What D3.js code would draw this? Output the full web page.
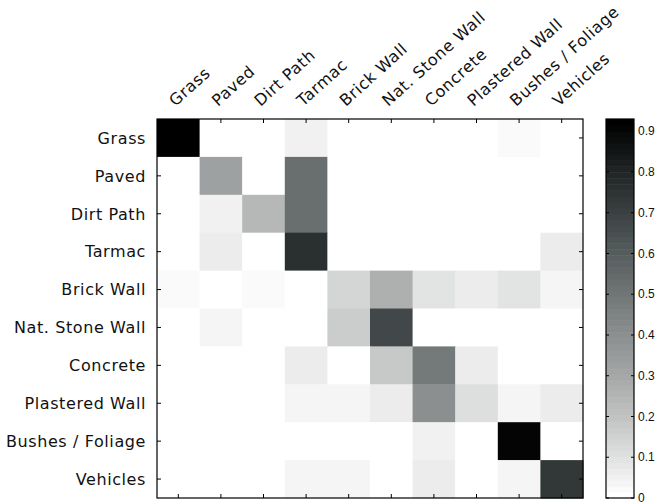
<!DOCTYPE html>
<html>
<head>
<meta charset="utf-8">
<script src="https://cdn.jsdelivr.net/npm/d3@7"></script>
<style>
  body { margin: 0; background: #fff; }
  svg { display: block; }
</style>
</head>
<body>
<div id="chart"></div>
<script>
// class names, used for both rows (true) and columns (predicted)
const classes = ['Grass', 'Paved', 'Dirt Path', 'Tarmac', 'Brick Wall',
  'Nat. Stone Wall', 'Concrete', 'Plastered Wall', 'Bushes / Foliage', 'Vehicles'];

// one row per true class
const rowGrass     = [0.93, 0, 0, 0.05, 0, 0, 0, 0, 0.02, 0];
const rowPaved     = [0, 0.32, 0, 0.53, 0, 0, 0, 0, 0, 0];
const rowDirtPath  = [0, 0.05, 0.24, 0.53, 0, 0, 0, 0, 0, 0];
const rowTarmac    = [0, 0.07, 0, 0.77, 0, 0.01, 0, 0, 0, 0.06];
const rowBrick     = [0.02, 0, 0.02, 0.01, 0.14, 0.27, 0.10, 0.06, 0.09, 0.03];
const rowStone     = [0, 0.04, 0, 0.01, 0.17, 0.68, 0, 0, 0, 0];
const rowConcrete  = [0, 0, 0, 0.07, 0, 0.18, 0.49, 0.07, 0, 0];
const rowPlastered = [0, 0, 0, 0.04, 0.04, 0.07, 0.40, 0.11, 0.03, 0.07];
const rowBushes    = [0, 0, 0, 0, 0, 0, 0.05, 0, 0.91, 0];
const rowVehicles  = [0, 0, 0, 0.04, 0.04, 0, 0.06, 0, 0.04, 0.73];

const matrix = [rowGrass, rowPaved, rowDirtPath, rowTarmac, rowBrick,
  rowStone, rowConcrete, rowPlastered, rowBushes, rowVehicles];

const colorbarTicks = [0, 0.1, 0.2, 0.3, 0.4, 0.5, 0.6, 0.7, 0.8, 0.9];
const vmax = 0.93;

const width = 658, height = 504;
const plot = { left: 157, right: 583, top: 119, bottom: 498 };
const cbar = { left: 606, right: 634 };
const labelFont = '"DejaVu Sans", sans-serif';

const svg = d3.select('#chart').append('svg')
  .attr('width', width)
  .attr('height', height);

const x = d3.scaleBand().domain(d3.range(classes.length)).range([plot.left, plot.right]);
const y = d3.scaleBand().domain(d3.range(classes.length)).range([plot.top, plot.bottom]);

// inverted grey map with a faint cyan tint, 64 levels like the original
const nLevels = 64;
const greyInterp = d3.interpolateRgbBasis(['#ffffff', '#c2c3c3', '#929595', '#626969', '#303738', '#000000']);
const level = v => Math.min(nLevels - 1, Math.floor(v / vmax * nLevels));
const color = v => greyInterp(level(v) / (nLevels - 1));

// cells
const cells = [];
matrix.forEach((row, i) => row.forEach((v, j) => cells.push({ i, j, v })));

svg.append('g').selectAll('rect')
  .data(cells)
  .join('rect')
  .attr('x', d => x(d.j))
  .attr('y', d => y(d.i))
  .attr('width', x.bandwidth() + 0.5)
  .attr('height', y.bandwidth() + 0.5)
  .attr('fill', d => color(d.v));

// box and inward ticks
const tickLen = 4;
const frame = svg.append('g').attr('stroke', '#000').attr('fill', 'none');
frame.append('rect')
  .attr('x', plot.left).attr('y', plot.top)
  .attr('width', plot.right - plot.left).attr('height', plot.bottom - plot.top)
  .attr('stroke-width', 1.2);

d3.range(classes.length).forEach(k => {
  const cx = x(k) + x.bandwidth() / 2;
  const cy = y(k) + y.bandwidth() / 2;
  frame.append('line').attr('x1', cx).attr('x2', cx).attr('y1', plot.top).attr('y2', plot.top + tickLen);
  frame.append('line').attr('x1', cx).attr('x2', cx).attr('y1', plot.bottom).attr('y2', plot.bottom - tickLen);
  frame.append('line').attr('y1', cy).attr('y2', cy).attr('x1', plot.left).attr('x2', plot.left + tickLen);
  frame.append('line').attr('y1', cy).attr('y2', cy).attr('x1', plot.right).attr('x2', plot.right - tickLen);
});

// row labels
svg.append('g').selectAll('text')
  .data(classes)
  .join('text')
  .attr('x', plot.left - 11)
  .attr('y', (d, i) => y(i) + y.bandwidth() / 2)
  .attr('dy', '0.36em')
  .attr('text-anchor', 'end')
  .style('font-family', labelFont)
  .style('font-size', '16px')
  .style('letter-spacing', '0.6px')
  .style('fill', '#111')
  .text(d => d);

// column labels, rotated
svg.append('g').selectAll('text')
  .data(classes)
  .join('text')
  .attr('transform', (d, i) => `translate(${x(i) + x.bandwidth() / 2 - 3},${plot.top - 12}) rotate(-42)`)
  .attr('text-anchor', 'start')
  .style('font-family', labelFont)
  .style('font-size', '16px')
  .style('letter-spacing', '0.6px')
  .style('fill', '#111')
  .text(d => d);

// colorbar
const cy = d3.scaleLinear().domain([0, vmax]).range([plot.bottom, plot.top]);
const bands = d3.range(nLevels);
svg.append('g').selectAll('rect')
  .data(bands)
  .join('rect')
  .attr('x', cbar.left)
  .attr('width', cbar.right - cbar.left)
  .attr('y', k => cy((k + 1) * vmax / nLevels))
  .attr('height', (plot.bottom - plot.top) / nLevels + 0.5)
  .attr('fill', k => greyInterp(k / (nLevels - 1)));

const cb = svg.append('g').attr('stroke', '#000').attr('fill', 'none');
cb.append('rect')
  .attr('x', cbar.left).attr('y', plot.top)
  .attr('width', cbar.right - cbar.left).attr('height', plot.bottom - plot.top)
  .attr('stroke-width', 1.2);
colorbarTicks.forEach(t => {
  cb.append('line').attr('x1', cbar.left).attr('x2', cbar.left + 3).attr('y1', cy(t)).attr('y2', cy(t));
  cb.append('line').attr('x1', cbar.right).attr('x2', cbar.right - 3).attr('y1', cy(t)).attr('y2', cy(t));
});

svg.append('g').selectAll('text')
  .data(colorbarTicks)
  .join('text')
  .attr('x', cbar.right + 4)
  .attr('y', d => cy(d))
  .attr('dy', '0.35em')
  .style('font-family', '"Liberation Sans", Arial, sans-serif')
  .style('font-size', '12px')
  .style('fill', '#111')
  .text(d => d3.format('')(d));
</script>
</body>
</html>
